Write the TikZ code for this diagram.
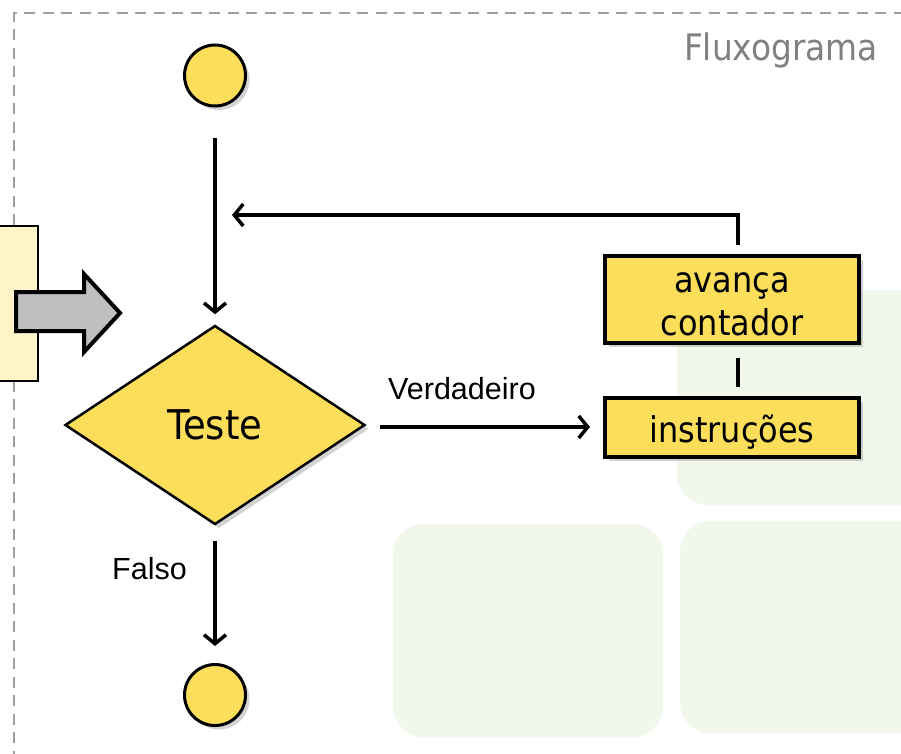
\documentclass[tikz,border=0pt]{standalone}
\usepackage{fontspec}
\setmainfont{Liberation Sans}
\newfontfamily\boxfont{DejaVu Sans Condensed}
\usepackage{tikz}
\usetikzlibrary{arrows.meta}
\usetikzlibrary{shapes.geometric, shadows}
\definecolor{myYellow}{RGB}{252,222,90}
\definecolor{myPale}{RGB}{255,243,200}
\definecolor{myGreen}{RGB}{241,248,235}
\definecolor{myFrame}{RGB}{158,158,158}
\definecolor{myTitle}{RGB}{128,128,128}

\begin{document}
\begin{tikzpicture}[x=1pt, y=-1pt, inner sep=3pt]
            \useasboundingbox (0,0) rectangle (901,753);

            \tikzstyle{myShadow}=[drop shadow={shadow xshift=4pt, shadow yshift=-4pt, opacity=0.35}];
            \tikzstyle{myCir}=[circle, draw, line width=3, fill=myYellow, minimum size=61, myShadow];
            \tikzstyle{myDia}=[diamond, draw, line width=2.5, fill=myYellow, minimum width=300, minimum height=199, inner sep=0, myShadow, font=\boxfont\fontsize{41}{47}\selectfont];
            \tikzstyle{myBox}=[rectangle, draw, line width=4, fill=myYellow, minimum width=254, myShadow, align=center, font=\boxfont\fontsize{35.5}{43}\selectfont];
            \tikzstyle{myArr}=[line width=3.5, -{Straight Barb[length=9pt, width=22pt]}];
            \tikzstyle{myLbl}=[font=\fontsize{30.5}{36}\selectfont];

            % fundo
            \fill[myGreen, rounded corners=30] (677,290) rectangle (930,505);
            \fill[myGreen, rounded corners=30] (393,524) rectangle (663,737);
            \fill[myGreen, rounded corners=30] (680,521) rectangle (930,733);
            \draw[myFrame, line width=2.7, dash pattern=on 11pt off 7.5pt] (14,780) -- (14,13) -- (930,13);
            \node[myTitle, anchor=base east, font=\boxfont\fontsize{36.5}{42}\selectfont] (title) at (881,60) {Fluxograma};

            % seta lateral
            \fill[myPale, draw=black, line width=1.5] (-5,226) rectangle (38,381);
            \draw[black, fill=black!25, line width=4, line join=miter] (16,292) -- (84,292) -- (84,274) -- (120,313) -- (84,352) -- (84,331) -- (16,331) -- cycle;

            \node[myCir] (ini) at (215,75.5) {};
            \node[myDia] (teste) at (215,425) {Teste};
            \node[myCir] (fim) at (215,695) {};
            \node[myBox, minimum height=87] (avanca) at (732,299.5) {\rule{0pt}{29pt}avança\\contador};
            \node[myBox, minimum height=59] (instr) at (732,427.5) {\rule{0pt}{37pt}instruções};

            \coordinate (volta) at (738,245);
            \coordinate (entra) at (232,215);

            \draw[myArr, shorten <=30pt, shorten >=10pt] (ini) -- (teste);
            \draw[myArr, shorten <=14pt, shorten >=13pt] ([yshift=-2pt]teste.east) -- ([yshift=-2pt]teste.east -| instr.west);
            \draw[myArr, shorten <=15pt, shorten >=17pt] (teste.south) -- (fim);
            \draw[line width=3.5, shorten <=13pt, shorten >=9pt] ([xshift=6pt]avanca.south) -- ([xshift=6pt]instr.north);
            \draw[myArr] (volta) |- (entra);

            \node[myLbl] (verd) at (462,389) {Verdadeiro};
            \node[myLbl, anchor=base east] (falso) at (190,579) {Falso};
         \end{tikzpicture}
\end{document}
